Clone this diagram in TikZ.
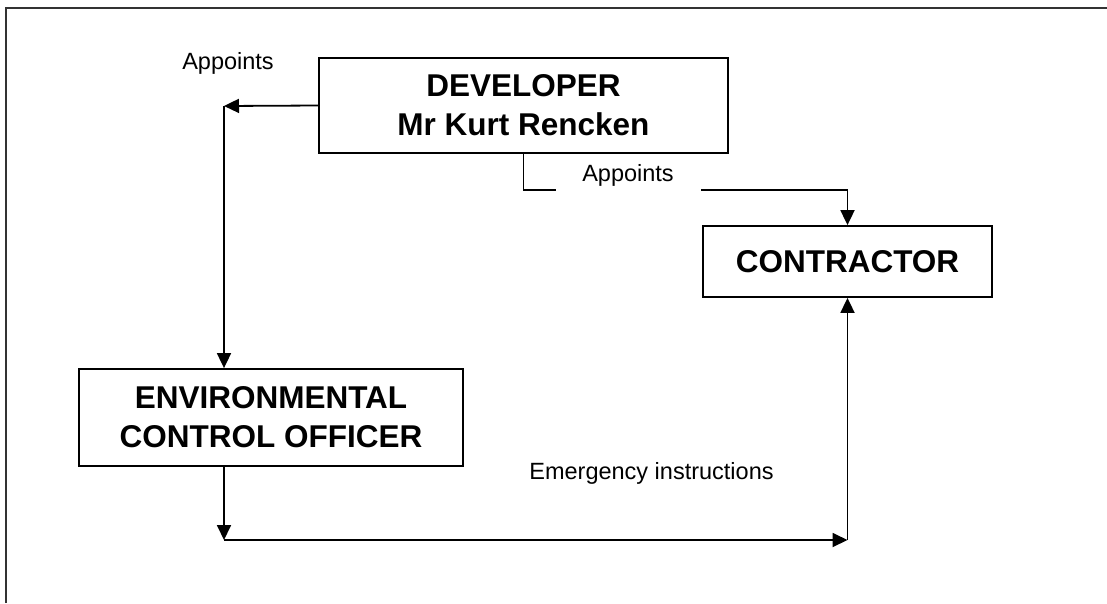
\documentclass[tikz,border=0pt]{standalone}
\usepackage{fontspec}
\setmainfont{Liberation Sans}
\usetikzlibrary{arrows.meta}

\begin{document}
\begin{tikzpicture}[x=1pt,y=-1pt,
  box/.style={draw, line width=1.8pt, align=center, inner sep=0pt,
    font=\fontsize{31.5}{39}\selectfont\bfseries},
  arr/.style={line width=1.8pt, -{Triangle[length=15pt,width=14pt]}},
  lbl/.style={font=\fontsize{23.5}{28}\selectfont}]

\useasboundingbox (0,0) rectangle (1107,603);

\draw[black!80, line width=1.8pt] (6,603) -- (6,8) -- (1107,8);

\node(dev)[box, minimum width=409, minimum height=95] at (523.5,105.5) {DEVELOPER\\Mr Kurt Rencken};
\node(con)[box, minimum width=289, minimum height=71] at (847.5,261.5) {CONTRACTOR};
\node(eco)[box, minimum width=384, minimum height=97] at (271,417.5) {ENVIRONMENTAL\\CONTROL OFFICER};

\coordinate(c1) at (224,106);
\coordinate(c3) at (847.5,190);
\coordinate(c4) at (224,540);
\coordinate(c5) at (847.5,540);

\draw[arr] (dev.west) -- (c1);
\draw[arr] (c1) -- (c1 |- eco.north);
\draw[arr] (dev.south) |- (c3) -- (con.north);

\draw[arr] (c4 |- eco.south) -- (c4);
\draw[arr] (c4) -- (c5);
\draw[arr] (c5) -- (con.south);

\node(ap1)[lbl] at (228,63) {Appoints};
\node(ap2)[lbl, fill=white, minimum width=145, minimum height=42] at (628,175) {Appoints};
\node(em)[lbl] at (651.5,473) {Emergency instructions};

\end{tikzpicture}
\end{document}
